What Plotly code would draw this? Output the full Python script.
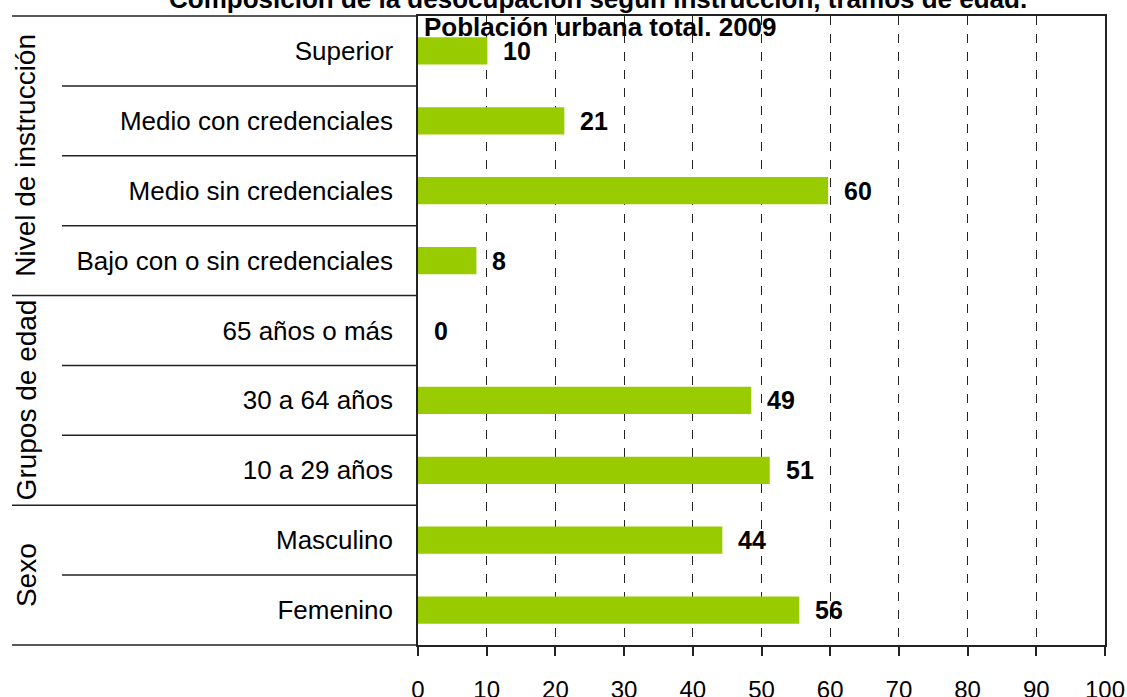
import plotly.graph_objects as go

categories = ["Superior", "Medio con credenciales", "Medio sin credenciales",
              "Bajo con o sin credenciales", "65 años o más", "30 a 64 años",
              "10 a 29 años", "Masculino", "Femenino"]
values = [10.1, 21.3, 59.7, 8.5, 0.0, 48.5, 51.2, 44.3, 55.5]
value_labels = ["10", "21", "60", "8", "0", "49", "51", "44", "56"]
groups = ["Nivel de instrucción", "Grupos de edad", "Sexo"]
group_sizes = [4, 3, 2]
x_ticks = [0, 10, 20, 30, 40, 50, 60, 70, 80, 90, 100]
title_1 = "Composición de la desocupación según instrucción, tramos de edad."
title_2 = "Población urbana total. 2009"

W, H = 1127, 697
L, R, T, B = 418, 22, 16, 52
pw = W - L - R
ph = H - T - B
FONT = "Liberation Sans, Arial, sans-serif"

fig = go.Figure()
fig.add_trace(go.Bar(
    x=values, y=categories, orientation="h",
    marker=dict(color="#99CC00", line=dict(width=0)),
    width=0.39, hoverinfo="skip",
))

annotations = []
for c, v, t in zip(categories, values, value_labels):
    annotations.append(dict(x=v, y=c, xref="x", yref="y", text=t, showarrow=False,
                            xanchor="left", yanchor="middle", xshift=14,
                            font=dict(family=FONT, size=25, color="black", weight="bold")))

shapes = []
line_style = dict(color="#222222", width=1.5)
x_outer = -(L - 12) / pw
x_inner = -(L - 62) / pw
shapes.append(dict(type="line", xref="paper", yref="paper", x0=x_outer, x1=0, y0=1, y1=1, line=line_style))
shapes.append(dict(type="line", xref="paper", yref="paper", x0=x_outer, x1=0, y0=0, y1=0, line=line_style))
start = 0
for gi, (g, n) in enumerate(zip(groups, group_sizes)):
    for k in range(1, n):
        yb = start + k - 0.5
        shapes.append(dict(type="line", xref="paper", yref="y", x0=x_inner, x1=0, y0=yb, y1=yb, line=line_style))
    if gi < len(groups) - 1:
        yb = start + n - 0.5
        shapes.append(dict(type="line", xref="paper", yref="y", x0=x_outer, x1=0, y0=yb, y1=yb, line=line_style))
    annotations.append(dict(x=-(L - 26) / pw, y=start + (n - 1) / 2, xref="paper", yref="y",
                            text=g, textangle=-90, showarrow=False, xanchor="center", yanchor="middle",
                            font=dict(family=FONT, size=28, color="black")))
    start += n

annotations.append(dict(x=(598 - L) / pw, y=1 + (T + 1) / ph, xref="paper", yref="paper", text=title_1,
                        showarrow=False, xanchor="center", yanchor="middle",
                        font=dict(family=FONT, size=26, color="black", weight="bold")))
annotations.append(dict(x=(600 - L) / pw, y=1 + (T - 27) / ph, xref="paper", yref="paper", text=title_2,
                        showarrow=False, xanchor="center", yanchor="middle",
                        font=dict(family=FONT, size=26, color="black", weight="bold")))

fig.update_layout(
    width=W, height=H,
    margin=dict(l=L, r=R, t=T, b=B, autoexpand=False),
    paper_bgcolor="white", plot_bgcolor="white",
    showlegend=False,
    xaxis=dict(range=[0, 100], tickvals=x_ticks, ticktext=[str(v) for v in x_ticks],
               showgrid=True, gridcolor="#222222", gridwidth=1, griddash="dash",
               showline=True, linecolor="#222222", linewidth=1.5, mirror=True,
               ticks="outside", ticklen=9, tickcolor="#222222", tickwidth=1.5,
               ticklabelstandoff=13, zeroline=False,
               tickfont=dict(family=FONT, size=24, color="black")),
    yaxis=dict(type="category", categoryorder="array", categoryarray=categories,
               range=[len(categories) - 0.5, -0.5],
               showline=True, linecolor="#222222", linewidth=1.5, mirror=True,
               showgrid=False, ticks="", ticklabelstandoff=18,
               tickfont=dict(family=FONT, size=26, color="black")),
    annotations=annotations,
    shapes=shapes,
    bargap=0.6,
)

fig.write_html("out.html", config={"displayModeBar": False},
               post_script="document.body.style.margin='0';document.body.style.overflow='hidden';")
